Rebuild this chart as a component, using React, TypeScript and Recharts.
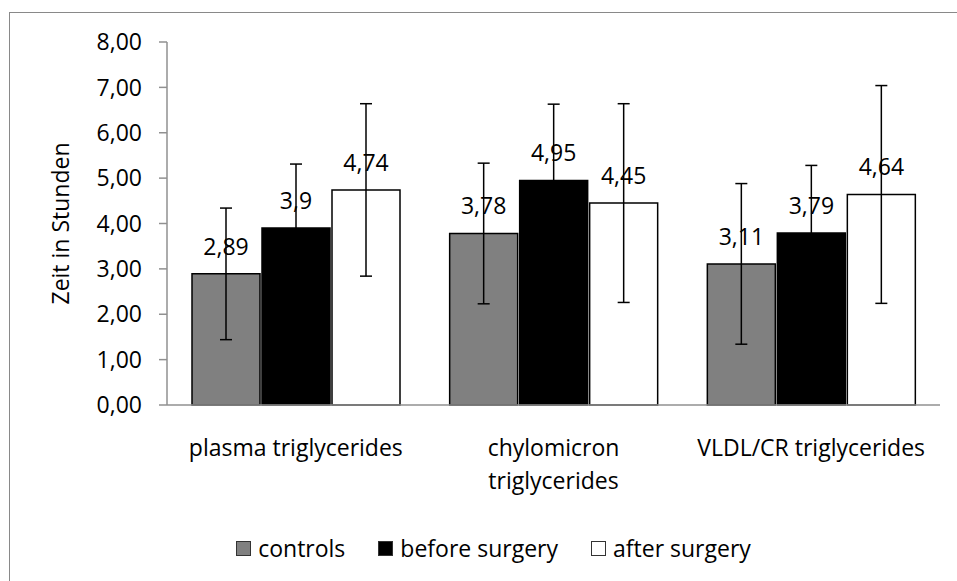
import React from "react";
import { BarChart, Bar, XAxis, YAxis, ErrorBar, LabelList, Legend } from "recharts";

const FONT = "'Open Sans', sans-serif";
const FS = 23;

const categories = ["plasma triglycerides", "chylomicron triglycerides", "VLDL/CR triglycerides"];
const controls = [2.89, 3.78, 3.11];
const beforeSurgery = [3.9, 4.95, 3.79];
const afterSurgery = [4.74, 4.45, 4.64];
const controlsErr = [1.45, 1.55, 1.77];
const beforeErr = [1.41, 1.68, 1.49];
const afterErr = [1.9, 2.19, 2.4];
const yTicks = [0, 1, 2, 3, 4, 5, 6, 7, 8];

const seriesNames = ["controls", "before surgery", "after surgery"];
const seriesFill = ["#808080", "#000000", "#ffffff"];

const data = categories.map((name, i) => ({
  name,
  controls: controls[i],
  before: beforeSurgery[i],
  after: afterSurgery[i],
  controlsErr: controlsErr[i],
  beforeErr: beforeErr[i],
  afterErr: afterErr[i],
}));

const fmtTick = (v: number) => v.toFixed(2).replace(".", ",");
const fmtLabel = (v: any) => String(v).replace(".", ",");

// long names wrap onto two lines like in the original
const splitLabel = (s: string) => {
  if (s.length <= 22) return [s];
  const k = s.lastIndexOf(" ");
  return [s.slice(0, k), s.slice(k + 1)];
};

const CategoryTick = ({ x, y, payload }: any) => {
  const lines = splitLabel(payload.value);
  return (
    <text x={x} y={y} textAnchor="middle" fill="#000" fontSize={FS} fontFamily={FONT}>
      {lines.map((l, i) => (
        <tspan key={i} x={x} dy={i === 0 ? "0.75em" : 33}>
          {l}
        </tspan>
      ))}
    </text>
  );
};

const LegendBox = () => (
  <div
    style={{
      display: "flex",
      justifyContent: "center",
      alignItems: "center",
      paddingLeft: 22,
      fontFamily: FONT,
      fontSize: FS,
      color: "#000",
    }}
  >
    {seriesNames.map((n, i) => (
      <div key={n} style={{ display: "flex", alignItems: "center", marginRight: i < 2 ? 33 : 0 }}>
        <span
          style={{
            display: "inline-block",
            width: 13,
            height: 13,
            background: seriesFill[i],
            border: "1.5px solid #333",
            marginRight: 7,
          }}
        />
        <span>{n}</span>
      </div>
    ))}
  </div>
);

export default function App() {
  return (
    <div style={{ position: "fixed", left: 0, top: 0, width: 957, height: 581, overflow: "hidden", background: "#fff" }}>
      <div
        style={{
          position: "absolute",
          left: 9,
          top: 12,
          width: 1000,
          height: 1000,
          border: "1px solid #898989",
        }}
      />
      <div style={{ position: "absolute", left: 8, top: 8 }}>
        <BarChart
          width={949}
          height={573}
          data={data}
          margin={{ top: 34, right: 17, left: 0, bottom: 116 }}
          barCategoryGap={25}
          barGap={2}
        >
          <XAxis
            dataKey="name"
            axisLine={{ stroke: "#909090", strokeWidth: 1.5 }}
            tickLine={false}
            tickSize={0}
            tickMargin={34}
            tick={<CategoryTick />}
            interval={0}
            height={60}
          />
          <YAxis
            width={159}
            domain={[0, 8]}
            ticks={yTicks}
            tickFormatter={fmtTick}
            axisLine={{ stroke: "#909090", strokeWidth: 1.5 }}
            tickLine={{ stroke: "#909090", strokeWidth: 1.5 }}
            tickSize={8}
            tickMargin={17}
            tick={{ fill: "#000", fontSize: FS, fontFamily: FONT }}
            label={{
              value: "Zeit in Stunden",
              angle: -90,
              position: "center",
              dx: -27,
              style: { fontSize: FS, fontFamily: FONT, fill: "#000" },
            }}
          />
          <Legend
            verticalAlign="middle"
            layout="horizontal"
            content={<LegendBox />}
            wrapperStyle={{ position: "absolute", top: 524, left: 0, width: 949, height: 32 }}
          />
          <Bar dataKey="controls" name="controls" fill="#808080" stroke="#000" strokeWidth={1.5} isAnimationActive={false}>
            <ErrorBar dataKey="controlsErr" width={6} stroke="#000" strokeWidth={1.5} />
            <LabelList dataKey="controls" position="top" offset={19} formatter={fmtLabel} fill="#000" fontSize={FS} fontFamily={FONT} />
          </Bar>
          <Bar dataKey="before" name="before surgery" fill="#000000" stroke="#000" strokeWidth={1.5} isAnimationActive={false}>
            <ErrorBar dataKey="beforeErr" width={6} stroke="#000" strokeWidth={1.5} />
            <LabelList dataKey="before" position="top" offset={19} formatter={fmtLabel} fill="#000" fontSize={FS} fontFamily={FONT} />
          </Bar>
          <Bar dataKey="after" name="after surgery" fill="#ffffff" stroke="#000" strokeWidth={1.5} isAnimationActive={false}>
            <ErrorBar dataKey="afterErr" width={6} stroke="#000" strokeWidth={1.5} />
            <LabelList dataKey="after" position="top" offset={19} formatter={fmtLabel} fill="#000" fontSize={FS} fontFamily={FONT} />
          </Bar>
        </BarChart>
      </div>
    </div>
  );
}
